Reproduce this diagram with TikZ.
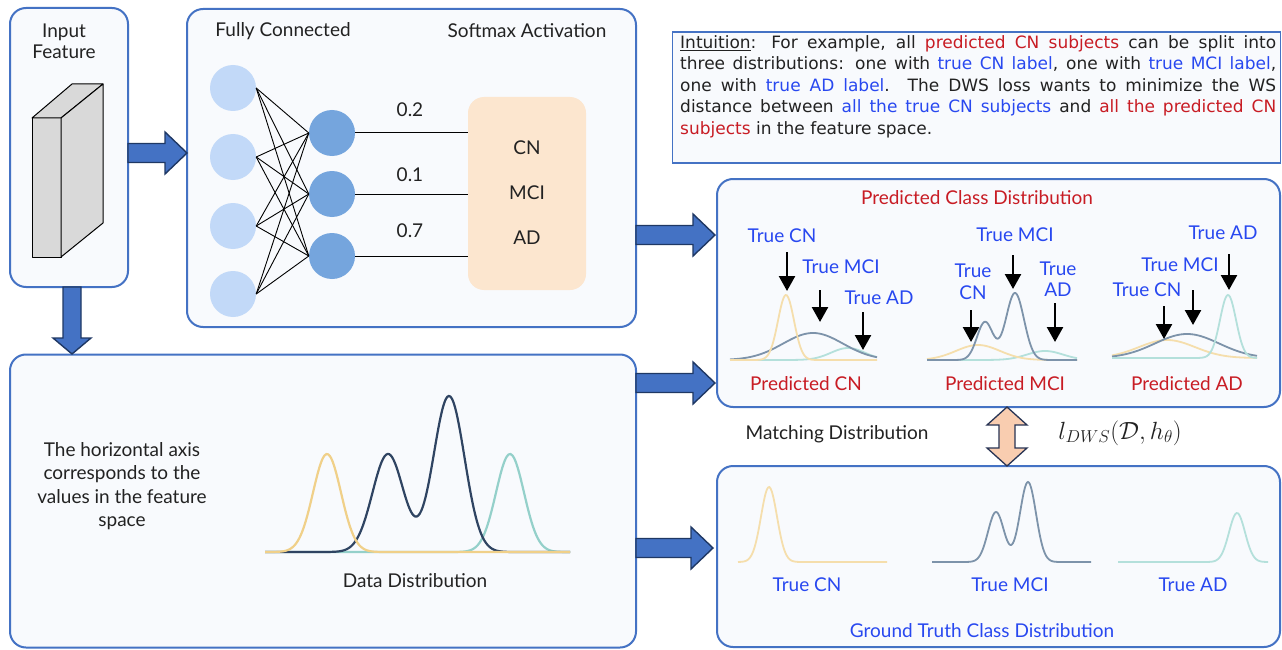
\documentclass[tikz,border=0pt]{standalone}
\usepackage{fontspec}
\setmainfont{Lato}
\newfontfamily\intfont{DejaVu Sans}
\usetikzlibrary{calc,arrows.meta}
\definecolor{bblue}{RGB}{68,114,196}
\definecolor{bfill}{RGB}{248,250,253}
\definecolor{aline}{RGB}{31,56,100}
\definecolor{peach}{RGB}{252,230,207}
\definecolor{dpeach}{RGB}{249,205,176}
\definecolor{dline}{RGB}{40,52,84}
\definecolor{inc}{RGB}{194,217,248}
\definecolor{outc}{RGB}{117,165,221}
\definecolor{tblue}{RGB}{40,72,240}
\definecolor{tred}{RGB}{200,28,36}
\definecolor{txt}{RGB}{34,34,34}
\definecolor{cy}{RGB}{240,208,137}
\definecolor{cd}{RGB}{47,68,98}
\definecolor{ct}{RGB}{148,208,202}
\definecolor{cyl}{RGB}{245,222,172}
\definecolor{cdl}{RGB}{125,147,170}
\definecolor{ctl}{RGB}{180,224,219}
\definecolor{cubec}{RGB}{217,217,217}
\newcommand\bhar[2]{\draw[barrow] let \p1=(#1), \p2=(#2) in (\x1,\y1+9.5pt) -- (\x2-22pt,\y1+9.5pt) -- (\x2-22pt,\y1+21pt) -- (\x2,\y1) -- (\x2-22pt,\y1-21pt) -- (\x2-22pt,\y1-9.5pt) -- (\x1,\y1-9.5pt) -- cycle;}
\newcommand\bvar[2]{\draw[barrow] let \p1=(#1), \p2=(#2) in (\x1-9pt,\y1) -- (\x1-9pt,\y2+16pt) -- (\x1-19pt,\y2+16pt) -- (\x1,\y2) -- (\x1+19pt,\y2+16pt) -- (\x1+9pt,\y2+16pt) -- (\x1+9pt,\y1) -- cycle;}
\begin{document}
\begin{tikzpicture}[x=1pt,y=-1pt,
  declare function={g(\q,\m,\w,\h)=\h*exp(-0.5*((\q-\m)/\w)^2);},
  box/.style={draw=bblue, line width=2pt, fill=bfill, rounded corners=16pt, inner sep=0},
  barrow/.style={draw=aline, fill=bblue, line width=1.4pt, line join=miter},
  lbl/.style={font=\fontsize{19}{22}\selectfont, text=txt, inner sep=0},
  blbl/.style={lbl, text=tblue},
  rlbl/.style={lbl, text=tred},
  inn/.style={circle, fill=inc, minimum size=46pt, inner sep=0},
  outn/.style={circle, fill=outc, minimum size=46pt, inner sep=0},
  cube/.style={fill=cubec, draw=black, line width=1pt, line join=round},
  darr/.style={line width=2.4pt, -{Triangle[width=16pt,length=15pt]}},
  cv/.style={line width=2.2pt},
  cvs/.style={line width=1.8pt}]
\useasboundingbox[fill=white] (0,0) rectangle (1282,650);

% boxes
\node[box, minimum width=118pt, minimum height=279pt] (inp) at (69,147.5) {};
\node[box, minimum width=449pt, minimum height=318pt] (fc) at (411.5,168) {};
\node[box, minimum width=626pt, minimum height=293pt] (data) at (323,501) {};
\node[box, minimum width=563pt, minimum height=228pt] (pred) at (998.5,293) {};
\node[box, minimum width=563pt, minimum height=181pt] (gt) at (998.5,556.5) {};
\node[draw=bblue, line width=1.6pt, fill=bfill, minimum width=608pt, minimum height=131pt, inner sep=0] (intubox) at (976.5,97.5) {};

% input feature
\node[lbl, align=center, font=\fontsize{19}{21}\selectfont] (inlbl) at (64,41) {Input\\Feature};
\draw[cube] (32,118) rectangle (61,257);
\draw[cube] (32,118) -- (72,84) -- (103,84) -- (61,118) -- cycle;
\draw[cube] (61,118) -- (103,84) -- (103,223) -- (61,257) -- cycle;

% block arrows
\coordinate (a1s) at (128,153); \coordinate (a1e) at (187,153);
\coordinate (a2s) at (72,287); \coordinate (a2e) at (72,354);
\coordinate (a3s) at (636,235); \coordinate (a3e) at (715,235);
\coordinate (a4s) at (636,383); \coordinate (a4e) at (715,383);
\coordinate (a5s) at (636,548); \coordinate (a5e) at (713,548);
\bhar{a1s}{a1e}
\bvar{a2s}{a2e}
\bhar{a3s}{a3e}
\bhar{a4s}{a4e}
\bhar{a5s}{a5e}

% fully connected
\node[lbl] (fctitle) at (283,31) {Fully Connected};
\node[lbl] (smtitle) at (527,31) {Softmax Activation};
\foreach \i/\y in {1/88,2/157,3/226,4/294} \node[inn] (i\i) at (233,\y) {};
\foreach \j/\y in {1/133,2/194,3/256} \node[outn] (o\j) at (332,\y) {};
\foreach \i in {1,...,4} \foreach \j in {1,2,3} \draw[line width=0.9pt] (i\i.east) -- (o\j.west);
\node[fill=peach, rounded corners=16pt, minimum width=118pt, minimum height=193pt, inner sep=0] (sm) at (527,193.5) {};
\foreach \j in {1,2,3} \draw[line width=1pt] (o\j.east) -- (sm.west |- o\j);
\node[lbl] (p1) at (410,110) {0.2};
\node[lbl] (p2) at (410,175) {0.1};
\node[lbl] (p3) at (410,231) {0.7};
\node[lbl] (cn) at (527,148) {CN};
\node[lbl] (mci) at (527,193) {MCI};
\node[lbl] (ad) at (527,238) {AD};

% intuition
\node[anchor=north west, text width=596pt, align=justify, inner sep=0, text=txt,
  font=\intfont\fontsize{17}{21.5}\selectfont] (intu) at (680,35) {\underline{Intuition}: For example, all \textcolor{tred}{predicted CN subjects} can be split into\linebreak three distributions: one with \textcolor{tblue}{true CN label}, one with \textcolor{tblue}{true MCI label},\linebreak one with \textcolor{tblue}{true AD label}. The DWS loss wants to minimize the WS\linebreak distance between \textcolor{tblue}{all the true CN subjects} and \textcolor{tred}{all the predicted CN}\linebreak \textcolor{tred}{subjects} in the feature space.};

% data distribution
\node[lbl, align=center, font=\fontsize{19}{23.5}\selectfont] (axis) at (122,486) {The horizontal axis\\corresponds to the\\values in the feature\\space};
\draw[cv, ct] plot[domain=265:570, samples=160, smooth] (\x,{552-g(\x,510,14,98)});
\draw[cv, cd] plot[domain=265:570, samples=200, smooth] (\x,{552-g(\x,388,15.5,98)-g(\x,449,15.5,156)});
\draw[cv, cy] plot[domain=265:570, samples=160, smooth] (\x,{552-g(\x,327,14,98)});
\node[lbl] (ddlbl) at (415,581) {Data Distribution};

% predicted class distribution
\node[rlbl] (pctitle) at (977,198) {Predicted Class Distribution};
% plot 1
\draw[cvs, ctl] plot[domain=730:877, samples=100, smooth] (\x,{360-g(\x,848,17,12)});
\draw[cvs, cdl] plot[domain=730:877, samples=100, smooth] (\x,{360-g(\x,813,30,27)});
\draw[cvs, cyl] plot[domain=730:877, samples=120, smooth] (\x,{360-g(\x,786,8,65)});
\node[blbl] (l1a) at (782,236) {True CN};
\node[blbl] (l1b) at (841,267) {True MCI};
\node[blbl] (l1c) at (879,298) {True AD};
\draw[darr] (787,252) -- (787,291);
\draw[darr] (820,290) -- (820,322);
\draw[darr] (863,312) -- (863,350);
\node[rlbl] (pcn) at (806,384) {Predicted CN};
% plot 2
\draw[cvs, ctl] plot[domain=927:1077, samples=100, smooth] (\x,{360-g(\x,1045,18,9)});
\draw[cvs, cyl] plot[domain=927:1077, samples=100, smooth] (\x,{360-g(\x,978,22,15)});
\draw[cvs, cdl] plot[domain=927:1077, samples=140, smooth] (\x,{360-g(\x,985,8,38)-g(\x,1015,9,67)});
\node[blbl] (l2a) at (1015,235) {True MCI};
\node[blbl, align=center, font=\fontsize{19}{21.5}\selectfont] (l2b) at (973,282) {True\\CN};
\node[blbl, align=center, font=\fontsize{19}{21.5}\selectfont] (l2c) at (1058,279) {True\\AD};
\draw[darr] (1013,255) -- (1013,289);
\draw[darr] (971,310) -- (971,342);
\draw[darr] (1055,303) -- (1055,342);
\node[rlbl] (pmci) at (1005,384) {Predicted MCI};
% plot 3
\draw[cvs, cyl] plot[domain=1112:1257, samples=100, smooth] (\x,{358-g(\x,1167,28,18)});
\draw[cvs, cdl] plot[domain=1112:1257, samples=100, smooth] (\x,{358-g(\x,1187,32,24)});
\draw[cvs, ctl] plot[domain=1112:1257, samples=120, smooth] (\x,{358-g(\x,1228,8,63)});
\node[blbl] (l3a) at (1223,233) {True AD};
\node[blbl] (l3b) at (1180,265) {True MCI};
\node[blbl] (l3c) at (1147,290) {True CN};
\draw[darr] (1229,254) -- (1229,290);
\draw[darr] (1193,290) -- (1193,325);
\draw[darr] (1164,306) -- (1164,339);
\node[rlbl] (pad) at (1187,384) {Predicted AD};

% matching
\node[lbl] (match) at (837,434) {Matching Distribution};
\node[inner sep=0, text=txt, font=\fontsize{24}{27}\selectfont] (loss) at (1120,433) {$l_{DWS}(\mathcal{D},h_\theta)$};
\coordinate (m1) at (1007,407); \coordinate (m2) at (1007,466);
\draw[draw=dline, fill=dpeach, line width=1.3pt, line join=miter] let \p1=(m1), \p2=(m2) in
  (\x1,\y1) -- (\x1+20pt,\y1-18pt) -- (\x1+8pt,\y1-18pt) -- (\x1+8pt,\y2+18pt) -- (\x1+20pt,\y2+18pt) -- (\x1,\y2) -- (\x1-20pt,\y2+18pt) -- (\x1-8pt,\y2+18pt) -- (\x1-8pt,\y1-18pt) -- (\x1-20pt,\y1-18pt) -- cycle;

% ground truth
\draw[cvs, cyl] plot[domain=738:887, samples=120, smooth] (\x,{562-g(\x,769,8,75)});
\draw[cvs, cdl] plot[domain=932:1091, samples=160, smooth] (\x,{562-g(\x,996,8,50)-g(\x,1028,8,80)});
\draw[cvs, ctl] plot[domain=1118:1268, samples=120, smooth] (\x,{562-g(\x,1237,8,49)});
\node[blbl] (g1) at (807,585) {True CN};
\node[blbl] (g2) at (1010,585) {True MCI};
\node[blbl] (g3) at (1193,585) {True AD};
\node[blbl] (gttitle) at (982,631) {Ground Truth Class Distribution};
\end{tikzpicture}
\end{document}
